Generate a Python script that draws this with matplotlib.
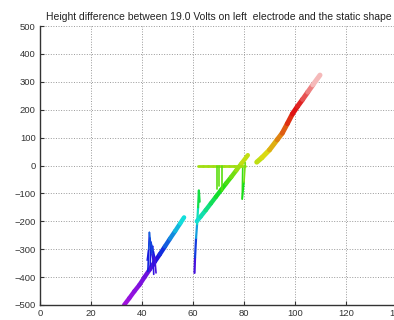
import numpy as np
import matplotlib
matplotlib.use('Agg')
import matplotlib.pyplot as plt
from matplotlib.collections import LineCollection

# lower branch, rising from the bottom edge
low_x = [33, 35, 37, 39, 41, 43, 45, 47, 49, 51, 53, 55, 56.5]
low_y = [-500, -476, -451, -428, -400, -373, -345, -318, -290, -262, -235, -207, -186]

# tangle of traces around x = 43
knot1_x = [42.3, 42.9, 43.6, 44.2, 44.6]
knot1_y = [-380, -240, -300, -290, -390]
knot2_x = [43.2, 43.5, 44.5, 45.0, 45.5]
knot2_y = [-360, -275, -310, -330, -385]
knot3_x = [42.0, 42.6, 43.1, 43.9, 44.8]
knot3_y = [-340, -300, -260, -320, -360]

# jump at x = 61
jump_x = [60.6, 60.8, 61.2, 61.6, 62.0, 62.3, 62.6]
jump_y = [-385, -330, -260, -210, -150, -90, -130]

# middle branch
mid_x = [61.5, 63, 65, 67, 69, 71, 73, 75, 77, 79, 81.5]
mid_y = [-200, -183, -160, -136, -112, -88, -64, -41, -17, 7, 37]

# flat part at zero and the drops below it
flat_x = [62, 64, 66, 68, 70, 72, 74, 76, 78, 80.5]
flat_y = [0, 0, 0, 0, 0, 0, 0, 0, 0, 0]
drops_x = [69.5, 70.3, 71.5]
drops_y = [-85, -75, -90]
hook_x = [79.5, 79.3, 80.0, 80.5]
hook_y = [-10, -120, -60, 10]

# upper branch
up_x = [85, 87, 90, 93, 95, 97, 99, 101, 103, 105, 107, 109.8]
up_y = [12, 28, 56, 92, 116, 150, 185, 212, 237, 263, 289, 324]

# height -> position on the hsv wheel
hue_at = [-500, -380, -300, -200, -100, 0, 100, 190]
hue_val = [0.80, 0.75, 0.65, 0.51, 0.36, 0.22, 0.10, 0.0]


def colour_of(y):
	t = np.interp(y, hue_at, hue_val)
	c = np.array(plt.cm.hsv(t))
	c[:3] = c[:3] * 0.8 + 0.07
	fade = np.clip((y - 215.0) / 130.0, 0.0, 0.8)
	c[:3] = c[:3] * (1 - fade) + fade
	return c


def draw_trace(ax, xs, ys, lw):
	xs = np.asarray(xs, float)
	ys = np.asarray(ys, float)
	pts = np.column_stack([xs, ys])
	segs = [pts[i:i + 2] for i in range(len(pts) - 1)]
	cols = [colour_of(0.5 * (ys[i] + ys[i + 1])) for i in range(len(pts) - 1)]
	lc = LineCollection(segs, colors=cols, linewidths=lw, capstyle='round', joinstyle='round')
	ax.add_collection(lc)


def main():
	plt.rcParams['font.family'] = ['Liberation Sans', 'DejaVu Sans']
	fig = plt.figure(figsize=(3.94, 3.20), dpi=100)
	ax = fig.add_axes([40 / 394.0, 15 / 320.0, 357 / 394.0, 279 / 320.0])

	draw_trace(ax, low_x, low_y, 3.2)
	draw_trace(ax, knot1_x, knot1_y, 1.2)
	draw_trace(ax, knot2_x, knot2_y, 1.2)
	draw_trace(ax, knot3_x, knot3_y, 1.0)
	draw_trace(ax, jump_x, jump_y, 1.6)
	draw_trace(ax, mid_x, mid_y, 3.2)
	draw_trace(ax, flat_x, flat_y, 2.0)
	for dx, dy in zip(drops_x, drops_y):
		draw_trace(ax, [dx, dx], [0, dy], 1.2)
	draw_trace(ax, hook_x, hook_y, 1.2)
	draw_trace(ax, up_x, up_y, 3.6)

	ax.set_xlim(0, 140)
	ax.set_ylim(-500, 500)
	ax.set_xticks(np.arange(0, 141, 20))
	ax.set_yticks(np.arange(-500, 501, 100))
	ax.grid(True, linestyle=':', color='0.6', linewidth=0.7)
	ax.set_axisbelow(True)
	for side in ['top', 'right']:
		ax.spines[side].set_visible(False)
	for side in ['left', 'bottom']:
		ax.spines[side].set_color('#333333')
		ax.spines[side].set_linewidth(1.0)
	ax.tick_params(direction='in', length=3, labelsize=6.8, colors='#333333', pad=3)
	ax.set_title('Height difference between 19.0 Volts on left  electrode and the static shape',
		fontsize=7.5, color='#222222', pad=4)

	fig.savefig('out.png', dpi=100)


if __name__ == '__main__':
	main()
